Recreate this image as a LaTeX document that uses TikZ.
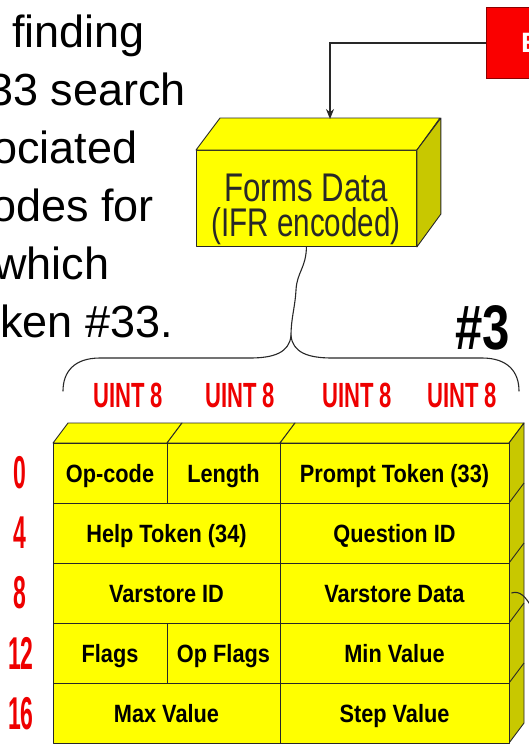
\documentclass[tikz,border=0pt]{standalone}
\usepackage{fontspec}
\usepackage{graphicx}
\setmainfont{Liberation Sans}
\usetikzlibrary{arrows.meta}

\definecolor{boxyellow}{RGB}{255,255,0}
\definecolor{sideyellow}{RGB}{200,200,0}
\definecolor{labelred}{RGB}{238,0,0}
\definecolor{alertred}{RGB}{250,0,0}
\definecolor{inkgray}{RGB}{40,40,40}

% horizontally condensed text
\newcommand\narrowed[2]{\scalebox{#1}[1]{#2}}

\begin{document}
\begin{tikzpicture}[x=1pt,y=-1pt,
  prose/.style={anchor=base west,inner sep=0pt,font=\fontsize{45}{54}\selectfont},
  face/.style={draw=inkgray,line width=0.9pt,line join=round},
  cell/.style={face,fill=boxyellow,inner sep=0pt,minimum height=60pt,
    text height=18pt,text depth=0pt,font=\bfseries\fontsize{25}{25}\selectfont},
  offset/.style={text=labelred,inner sep=0pt,font=\bfseries\fontsize{46}{46}\selectfont},
  fieldtype/.style={text=labelred,inner sep=0pt,font=\bfseries\fontsize{35}{35}\selectfont},
  formsline/.style={inner sep=0pt,anchor=base,text=inkgray,font=\fontsize{40}{40}\selectfont},
  flow/.style={draw=inkgray,line width=1.3pt,-{Stealth[length=10pt,width=8pt]}},
  brace/.style={draw=inkgray,line width=1.1pt,line cap=round}
]
\useasboundingbox (0,0) rectangle (529,745);
\clip (0,0) rectangle (529,745);

% running text on the left
\node[prose] (t1) at (12,47)  {finding};
\node[prose] (t2) at (-12,105) {33 search};
\node[prose] (t3) at (-8,163) {ociated};
\node[prose] (t4) at (-9,221) {odes for};
\node[prose] (t5) at (-6,279) {which};
\node[prose] (t6) at (0,337)  {ken \#33.};

% red source box
\node[fill=alertred,draw=red!55!black,line width=1pt,inner sep=0pt,
      minimum width=90pt,minimum height=71pt,anchor=north west] (ebox) at (486,7) {};
\node[anchor=west,inner sep=0pt,text=white,font=\bfseries\fontsize{28}{28}\selectfont]
  (elabel) at (521,43) {E};

% forms data block (3D)
\node[face,fill=boxyellow,minimum width=220pt,minimum height=96pt,anchor=north west,
      inner sep=0pt] (forms) at (196,150) {};
\filldraw[face,fill=boxyellow] (forms.north west) -- ++(24,-32) -- ++(220,0)
  -- (forms.north east) -- cycle;
\filldraw[face,fill=sideyellow] (forms.north east) -- ++(24,-32) -- ++(0,96)
  -- (forms.south east) -- cycle;
\node[formsline] (formsl1) at (306,201) {\narrowed{0.78}{Forms Data}};
\node[formsline] (formsl2) at (306,236) {\narrowed{0.74}{(IFR encoded)}};

\coordinate (formsin) at (330,119);
\draw[flow] (ebox.west) -| (formsin);

% brace from the block to the opcode layout
\coordinate (cusp) at (291,336);
\coordinate (braceL) at (63,391);
\coordinate (braceR) at (519,391);
\draw[brace] (forms.south) .. controls (306,268) and (297,272) .. (296,290)
  .. controls (295,308) and (291,318) .. (cusp);
\draw[brace] (cusp) .. controls (289,352) and (275,358) .. (250,358) -- (100,358)
  .. controls (74,358) and (63,372) .. (braceL);
\draw[brace] (cusp) .. controls (293,352) and (307,358) .. (332,358) -- (482,358)
  .. controls (508,358) and (519,372) .. (braceR);

\node[inner sep=0pt,font=\bfseries\fontsize{63}{63}\selectfont] (opnum) at (483,328)
  {\narrowed{0.78}{\#3}};

% field widths
\node[fieldtype] (u1) at (128,395) {\narrowed{0.63}{UINT 8}};
\node[fieldtype] (u2) at (240,395) {\narrowed{0.63}{UINT 8}};
\node[fieldtype] (u3) at (357,395) {\narrowed{0.63}{UINT 8}};
\node[fieldtype] (u4) at (462,395) {\narrowed{0.63}{UINT 8}};

% top and side faces of the layout block
\filldraw[face,fill=boxyellow] (53,443) -- (68,423) -- (182,423) -- (167,443) -- cycle;
\filldraw[face,fill=boxyellow] (167,443) -- (182,423) -- (295,423) -- (280,443) -- cycle;
\filldraw[face,fill=boxyellow] (280,443) -- (295,423) -- (524,423) -- (509,443) -- cycle;
\filldraw[face,fill=sideyellow] (509,443) -- (524,423) -- (524,723) -- (509,743) -- cycle;
\foreach \r in {503,563,623,683} \draw[face] (509,\r) -- ++(15,-20);

% layout cells, rows at byte offsets 0,4,8,12,16
\node[cell,minimum width=114pt] (opcode)  at (110,473) {\narrowed{0.87}{Op-code}};
\node[cell,minimum width=113pt] (length)  at (223.5,473) {\narrowed{0.87}{Length}};
\node[cell,minimum width=229pt] (prompt)  at (394.5,473) {\narrowed{0.87}{Prompt Token (33)}};
\node[cell,minimum width=227pt] (help)    at (166.5,533) {\narrowed{0.87}{Help Token (34)}};
\node[cell,minimum width=229pt] (qid)     at (394.5,533) {\narrowed{0.87}{Question ID}};
\node[cell,minimum width=227pt] (vsid)    at (166.5,593) {\narrowed{0.87}{Varstore ID}};
\node[cell,minimum width=229pt] (vsdata)  at (394.5,593) {\narrowed{0.87}{Varstore Data}};
\node[cell,minimum width=114pt] (flags)   at (110,653) {\narrowed{0.87}{Flags}};
\node[cell,minimum width=113pt] (opflags) at (223.5,653) {\narrowed{0.87}{Op Flags}};
\node[cell,minimum width=229pt] (minv)    at (394.5,653) {\narrowed{0.87}{Min Value}};
\node[cell,minimum width=227pt] (maxv)    at (166.5,713) {\narrowed{0.87}{Max Value}};
\node[cell,minimum width=229pt] (stepv)   at (394.5,713) {\narrowed{0.87}{Step Value}};

% link leaving the varstore data field
\coordinate (vsout) at (531,606);
\draw[draw=inkgray,line width=1.1pt] ([xshift=2pt]vsdata.east)
  .. controls +(9,-3) and +(-5,-8) .. (vsout);

% byte offsets
\node[offset] (o0)  at (20,473) {\narrowed{0.5}{0}};
\node[offset] (o4)  at (20,533) {\narrowed{0.5}{4}};
\node[offset] (o8)  at (20,593) {\narrowed{0.5}{8}};
\node[offset] (o12) at (21,653) {\narrowed{0.5}{12}};
\node[offset] (o16) at (21,714) {\narrowed{0.5}{16}};
\end{tikzpicture}
\end{document}
